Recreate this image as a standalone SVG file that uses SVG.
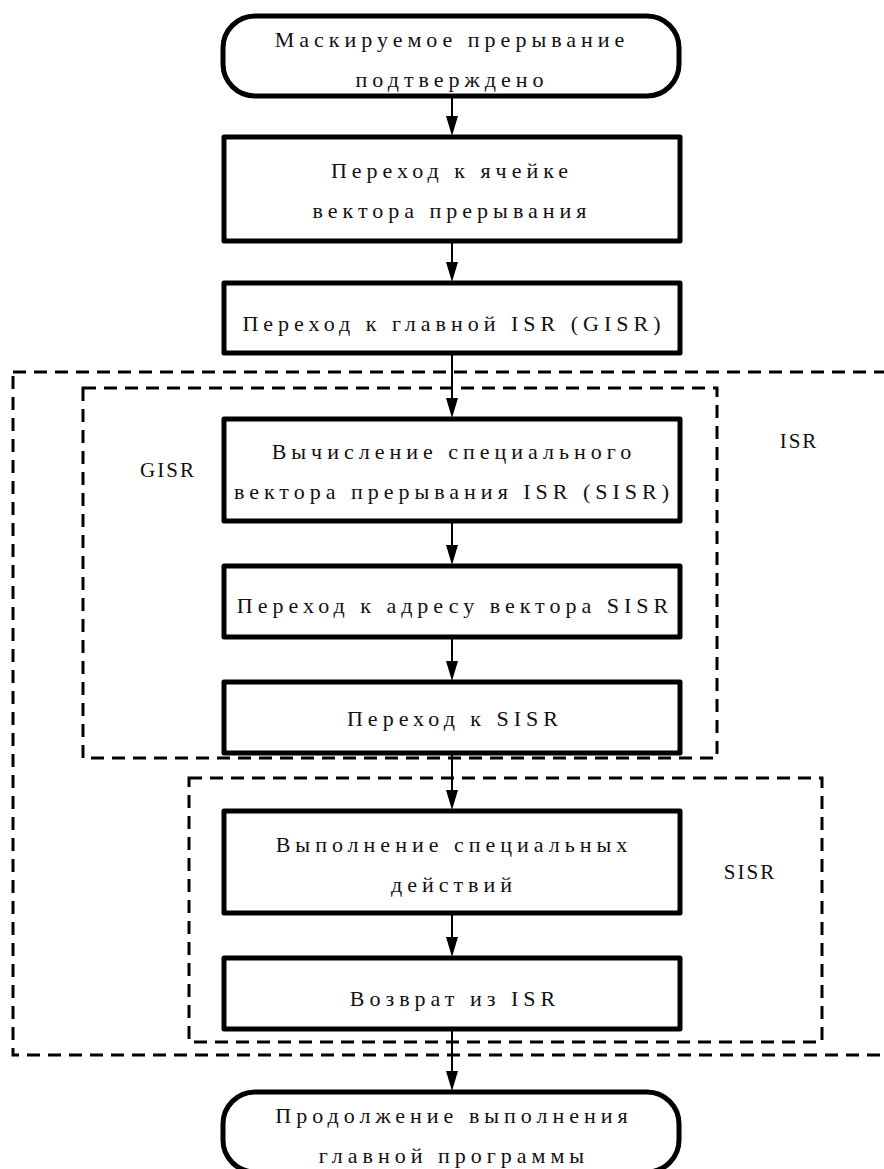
<svg xmlns="http://www.w3.org/2000/svg" width="884" height="1169" viewBox="0 0 884 1169">
<defs>
<style>
.box{fill:#fff;stroke:#000;stroke-width:5;stroke-linejoin:round}
.dash{fill:none;stroke:#000;stroke-width:3;stroke-dasharray:13 8}
.t{font-size:22px;letter-spacing:5px;text-anchor:middle;fill:#111}
.lbl{font-size:21px;letter-spacing:2px;text-anchor:middle;fill:#111}
.c{stroke:#000;stroke-width:2;fill:none}
</style>
</defs>
<g id="groups" font-family="Liberation Serif, serif">
<rect class="dash" x="13" y="372" width="890" height="683"/>
<rect class="dash" x="83" y="388" width="634" height="370"/>
<rect class="dash" x="189" y="778" width="633" height="264"/>
<text class="lbl" x="799" y="448">ISR</text>
<text class="lbl" x="168" y="477">GISR</text>
<text class="lbl" x="750" y="879">SISR</text>
</g>
<g id="connectors">
<path class="c" d="M452,97 V116"/><path d="M446,116 L458,116 L452,136 Z"/>
<path class="c" d="M452,242 V262"/><path d="M446,262 L458,262 L452,282 Z"/>
<path class="c" d="M452,354 V398"/><path d="M446,398 L458,398 L452,418 Z"/>
<path class="c" d="M452,522 V545"/><path d="M446,545 L458,545 L452,565 Z"/>
<path class="c" d="M452,638 V661"/><path d="M446,661 L458,661 L452,681 Z"/>
<path class="c" d="M452,754 V790"/><path d="M446,790 L458,790 L452,810 Z"/>
<path class="c" d="M452,914 V937"/><path d="M446,937 L458,937 L452,957 Z"/>
<path class="c" d="M452,1030 V1071"/><path d="M446,1071 L458,1071 L452,1091 Z"/>
</g>
<g id="nodes" font-family="Liberation Serif, serif">
<g id="n1">
<rect class="box" x="223" y="16" width="456" height="80" rx="32"/>
<text class="t" x="452" y="47">Маскируемое прерывание</text>
<text class="t" x="452" y="87">подтверждено</text>
</g>
<g id="n2">
<rect class="box" x="224" y="137" width="456" height="104"/>
<text class="t" x="452" y="178">Переход к ячейке</text>
<text class="t" x="452" y="218">вектора прерывания</text>
</g>
<g id="n3">
<rect class="box" x="224" y="283" width="456" height="70"/>
<text class="t" x="454" y="331">Переход к главной ISR (GISR)</text>
</g>
<g id="n4">
<rect class="box" x="224" y="419" width="456" height="102"/>
<text class="t" x="454" y="459">Вычисление специального</text>
<text class="t" x="454" y="499">вектора прерывания ISR (SISR)</text>
</g>
<g id="n5">
<rect class="box" x="224" y="566" width="456" height="71"/>
<text class="t" x="455" y="613">Переход к адресу вектора SISR</text>
</g>
<g id="n6">
<rect class="box" x="224" y="682" width="456" height="71"/>
<text class="t" x="455" y="726">Переход к SISR</text>
</g>
<g id="n7">
<rect class="box" x="224" y="811" width="456" height="102"/>
<text class="t" x="454" y="852">Выполнение специальных</text>
<text class="t" x="454" y="892">действий</text>
</g>
<g id="n8">
<rect class="box" x="224" y="958" width="456" height="71"/>
<text class="t" x="455" y="1006">Возврат из ISR</text>
</g>
<g id="n9">
<rect class="box" x="223" y="1092" width="456" height="80" rx="32"/>
<text class="t" x="454" y="1123">Продолжение выполнения</text>
<text class="t" x="454" y="1163">главной программы</text>
</g>
</g>
</svg>
